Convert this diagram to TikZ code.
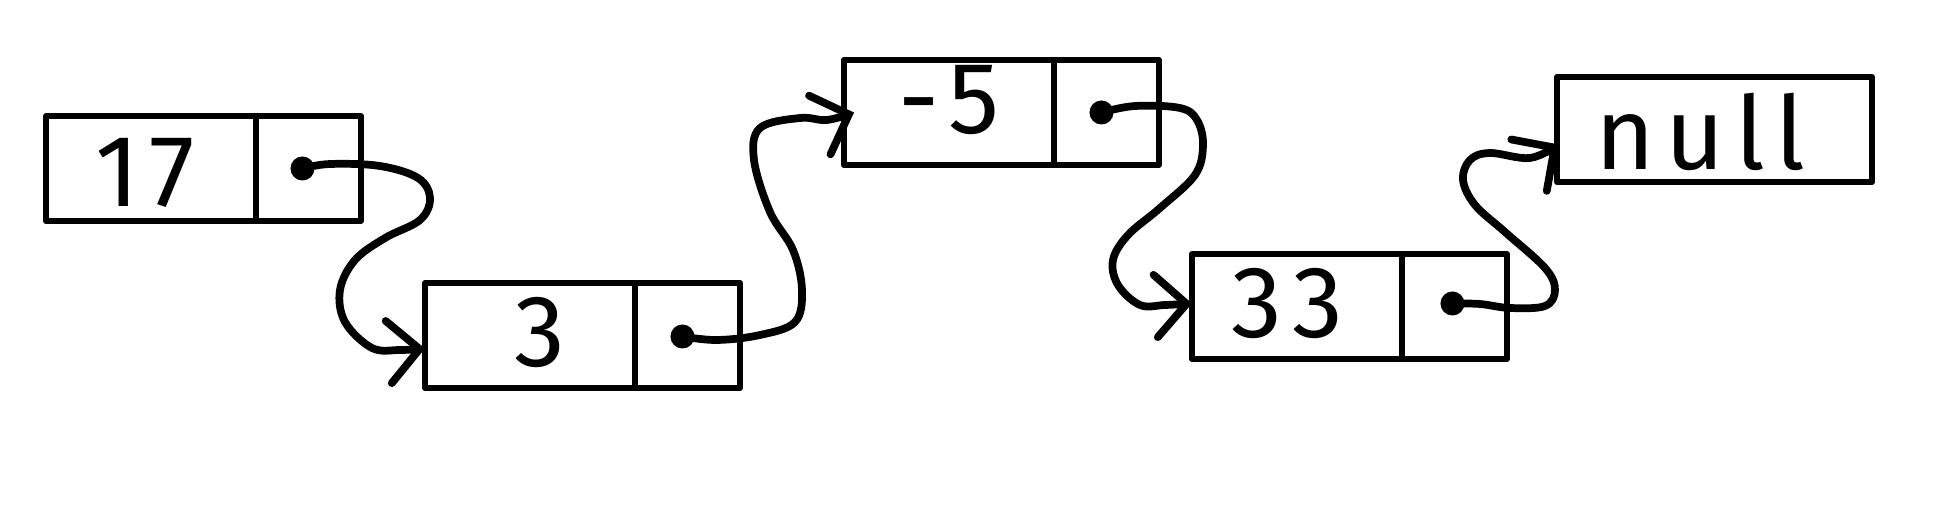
\documentclass[tikz,border=0pt]{standalone}
\usepackage{fontspec}
\newfontfamily\hand[LetterSpace=10]{Fira Sans}
\usetikzlibrary{arrows.meta,calc}
\begin{document}
\begin{tikzpicture}[x=0.02cm,y=-0.02cm,
  cellbox/.style={draw, line width=3.4pt, line join=round, inner sep=0pt, outer sep=0pt, minimum height=2.1cm},
  valcell/.style={cellbox, minimum width=4.2cm, anchor=north west},
  ptrcell/.style={cellbox, minimum width=2.1cm, anchor=west},
  nullcell/.style={cellbox, minimum width=6.3cm, anchor=north west},
  dotst/.style={circle, fill=black, inner sep=0pt, minimum size=0.48cm},
  txt/.style={font=\hand\fontsize{58}{60}\selectfont, inner sep=0pt},
  conn/.style={line width=4.4pt, line cap=round, line join=round,
    -{Straight Barb[length=0.62cm, width=1.25cm, line cap=round]}}
]
\useasboundingbox (0,0) rectangle (1940,523);

% boxes
\node[valcell] (v1) at (46,116) {};
\node[ptrcell] (p1) at (v1.east) {};
\node[valcell] (v2) at (425,283) {};
\node[ptrcell] (p2) at (v2.east) {};
\node[valcell] (v3) at (844,60) {};
\node[ptrcell] (p3) at (v3.east) {};
\node[valcell] (v4) at (1192,254) {};
\node[ptrcell] (p4) at (v4.east) {};
\node[nullcell] (n5) at (1557,77) {};

% texts
\node[txt] (t1) at ($(v1.center)+(-6,4)$) {17};
\node[txt] (t2) at ($(v2.center)+(10,-3)$) {3};
\node[txt] (t3) at ($(v3.center)+(0,-12)$) {-5};
\node[txt] (t4) at ($(v4.center)+(-10,-3)$) {33};
\node[txt] (t5) at ($(n5.center)+(-14,2)$) {null};

% dots
\node[dotst] (d1) at ($(p1.center)+(-6,0)$) {};
\node[dotst] (d2) at ($(p2.center)+(-5,1)$) {};
\node[dotst] (d3) at ($(p3.center)+(-5,0)$) {};
\node[dotst] (d4) at ($(p4.center)+(-2,-3)$) {};

% connectors
\draw[conn] plot[smooth, tension=0.6] coordinates {(d1.center) (330,164) (380,166) (418,178) (430,198) (420,220) (385,238) (355,260) (340,290) (345,322) (372,348) (400,350) ($(v2.west)+(0,13)$)};
\draw[conn] plot[smooth, tension=0.6] coordinates {(d2.center) (717,340) (760,335) (795,322) (802,290) (793,250) (770,212) (754,160) (760,128) (800,118) (827,120) ($(v3.west)+(10,0)$)};
\draw[conn] plot[smooth, tension=0.6] coordinates {(d3.center) (1135,106) (1180,108) (1197,120) (1203,145) (1195,175) (1160,208) (1128,235) (1113,260) (1118,285) (1140,305) (1165,305) ($(v4.west)+(0,-3)$)};
\draw[conn] plot[smooth, tension=0.6] coordinates {(d4.center) (1480,304) (1510,308) (1545,306) (1555,290) (1545,268) (1505,232) (1475,205) (1463,180) (1470,160) (1490,153) (1530,158) ($(n5.west)+(2,15)$)};
\end{tikzpicture}
\end{document}
